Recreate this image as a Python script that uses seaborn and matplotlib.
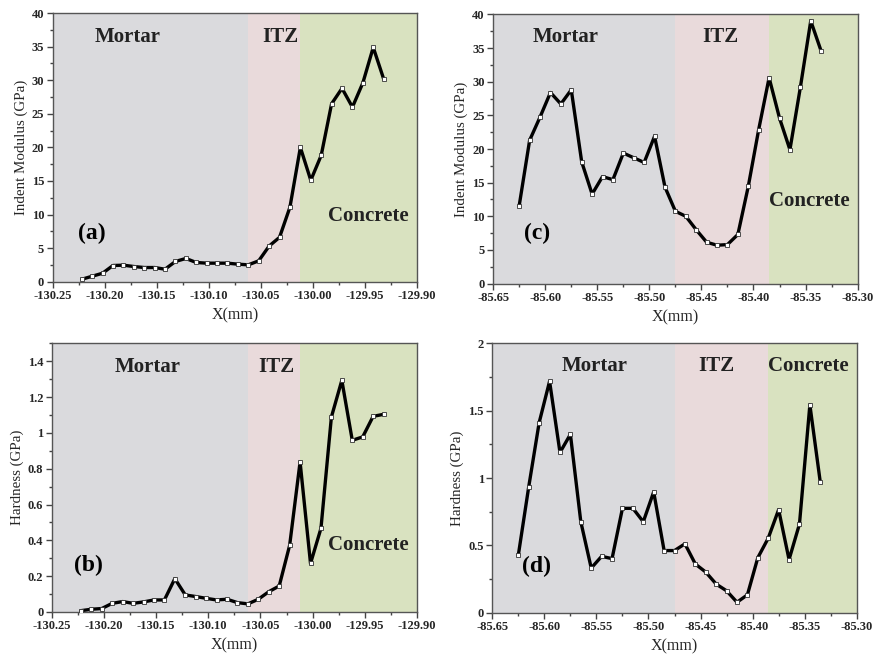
import matplotlib
matplotlib.use("Agg")
import matplotlib.pyplot as plt
import seaborn as sns
import pandas as pd
from matplotlib.ticker import MultipleLocator, FormatStrFormatter, FuncFormatter

# --- measurement positions (mm) ---
x_left = [-130.222, -130.212, -130.202, -130.192, -130.182, -130.172, -130.162, -130.152,
          -130.142, -130.132, -130.122, -130.112, -130.102, -130.092, -130.082, -130.072,
          -130.062, -130.052, -130.042, -130.032, -130.022, -130.012, -130.002, -129.992,
          -129.982, -129.972, -129.962, -129.952, -129.942, -129.932]
x_right = [-85.625, -85.615, -85.605, -85.595, -85.585, -85.575, -85.565, -85.555,
           -85.545, -85.535, -85.525, -85.515, -85.505, -85.495, -85.485, -85.475,
           -85.465, -85.455, -85.445, -85.435, -85.425, -85.415, -85.405, -85.395,
           -85.385, -85.375, -85.365, -85.355, -85.345, -85.335]

# --- indentation modulus (GPa) ---
modulus_a = [0.35, 0.8, 1.25, 2.4, 2.45, 2.25, 2.1, 2.1, 1.85, 3.0, 3.45, 2.85, 2.75, 2.75, 2.75,
             2.6, 2.5, 3.1, 5.3, 6.6, 11.1, 20.0, 15.1, 18.8, 26.5, 28.8, 26.0, 29.6, 34.9, 30.2]
modulus_c = [11.6, 21.3, 24.75, 28.4, 26.7, 28.8, 18.1, 13.3, 15.9, 15.45, 19.4, 18.7, 18.0, 21.9,
             14.35, 10.75, 10.0, 8.0, 6.15, 5.7, 5.8, 7.3, 14.45, 22.9, 30.6, 24.6, 19.9, 29.15,
             39.05, 34.55]

# --- hardness (GPa) ---
hardness_b = [0.007, 0.015, 0.019, 0.048, 0.058, 0.048, 0.056, 0.067, 0.067, 0.186, 0.095, 0.086,
              0.076, 0.067, 0.071, 0.052, 0.045, 0.071, 0.113, 0.145, 0.372, 0.838, 0.271, 0.467,
              1.089, 1.294, 0.959, 0.978, 1.093, 1.104]
hardness_d = [0.428, 0.936, 1.412, 1.719, 1.19, 1.325, 0.675, 0.331, 0.418, 0.401, 0.775, 0.775,
              0.675, 0.897, 0.461, 0.461, 0.511, 0.361, 0.301, 0.212, 0.162, 0.077, 0.132, 0.408,
              0.553, 0.765, 0.394, 0.658, 1.544, 0.969]

# --- zone boundaries (mm) ---
zones_left = [-130.25, -130.062, -130.012, -129.90]
zones_right = [-85.65, -85.475, -85.385, -85.30]
zone_names = ["Mortar", "ITZ", "Concrete"]
zone_colors = ["#dadadd", "#e9dadb", "#d9e2c0"]

sns.set_style("ticks")
plt.rcParams["font.family"] = ["Liberation Serif", "DejaVu Serif"]

fig = plt.figure(figsize=(8.76, 6.58), dpi=100)

panels = [
    dict(rect=[0.060, 0.572, 0.416, 0.408], x=x_left, y=modulus_a, zones=zones_left,
         ylim=(0, 40), major=5, minor=2.5, ylabel="Indent Modulus (GPa)", letter="(a)",
         letter_pos=(0.108, 0.18),
         text_pos=[(0.205, 0.912), (0.624, 0.912), (0.867, 0.245)]),
    dict(rect=[0.563, 0.569, 0.416, 0.409], x=x_right, y=modulus_c, zones=zones_right,
         ylim=(0, 40), major=5, minor=2.5, ylabel="Indent Modulus (GPa)", letter="(c)",
         letter_pos=(0.12, 0.188),
         text_pos=[(0.20, 0.915), (0.623, 0.915), (0.867, 0.308)]),
    dict(rect=[0.059, 0.070, 0.417, 0.408], x=x_left, y=hardness_b, zones=zones_left,
         ylim=(0, 1.5), major=0.2, minor=0.1, ylabel="Hardness (GPa)", letter="(b)",
         letter_pos=(0.101, 0.174),
         text_pos=[(0.262, 0.911), (0.614, 0.911), (0.867, 0.248)]),
    dict(rect=[0.562, 0.069, 0.416, 0.409], x=x_right, y=hardness_d, zones=zones_right,
         ylim=(0, 2), major=0.5, minor=0.25, ylabel="Hardness (GPa)", letter="(d)",
         letter_pos=(0.122, 0.172),
         text_pos=[(0.281, 0.917), (0.614, 0.917), (0.867, 0.917)]),
]

for p in panels:
    ax = fig.add_axes(p["rect"])
    z = p["zones"]
    for i in range(3):
        ax.axvspan(z[i], z[i + 1], color=zone_colors[i], lw=0, zorder=0)
    df = pd.DataFrame({"x": p["x"], "y": p["y"]})
    sns.lineplot(data=df, x="x", y="y", ax=ax, color="black", lw=2.4,
                 marker="s", markersize=3.0, markerfacecolor="white",
                 markeredgecolor="#333333", markeredgewidth=0.6, zorder=3)
    ax.set_xlim(z[0], z[-1])
    ax.set_ylim(*p["ylim"])
    ax.xaxis.set_major_locator(MultipleLocator(0.05))
    ax.xaxis.set_minor_locator(MultipleLocator(0.025))
    ax.xaxis.set_major_formatter(FormatStrFormatter("%.2f"))
    ax.yaxis.set_major_locator(MultipleLocator(p["major"]))
    ax.yaxis.set_minor_locator(MultipleLocator(p["minor"]))
    ax.yaxis.set_major_formatter(FuncFormatter(lambda v, pos: "%g" % round(v, 3)))
    ax.tick_params(axis="both", which="major", direction="out", length=4, width=1,
                   color="#444444", labelsize=9, pad=2)
    ax.tick_params(axis="both", which="minor", direction="out", length=2.5, width=1,
                   color="#444444")
    for lab in ax.get_xticklabels() + ax.get_yticklabels():
        lab.set_fontweight("bold")
    for s in ax.spines.values():
        s.set_visible(True)
        s.set_color("#555555")
        s.set_linewidth(1.0)
    ax.set_xlabel("X(mm)", fontsize=11.5, labelpad=4)
    ax.set_ylabel(p["ylabel"], fontsize=10.8, labelpad=3)
    for name, (tx, ty) in zip(zone_names, p["text_pos"]):
        ax.text(tx, ty, name, transform=ax.transAxes, ha="center", va="center",
                fontsize=15, fontweight="bold", color="#222222", zorder=4)
    ax.text(p["letter_pos"][0], p["letter_pos"][1], p["letter"], transform=ax.transAxes,
            ha="center", va="center", fontsize=17, fontweight="bold", color="black", zorder=4)

fig.savefig("out.png", dpi=100)
